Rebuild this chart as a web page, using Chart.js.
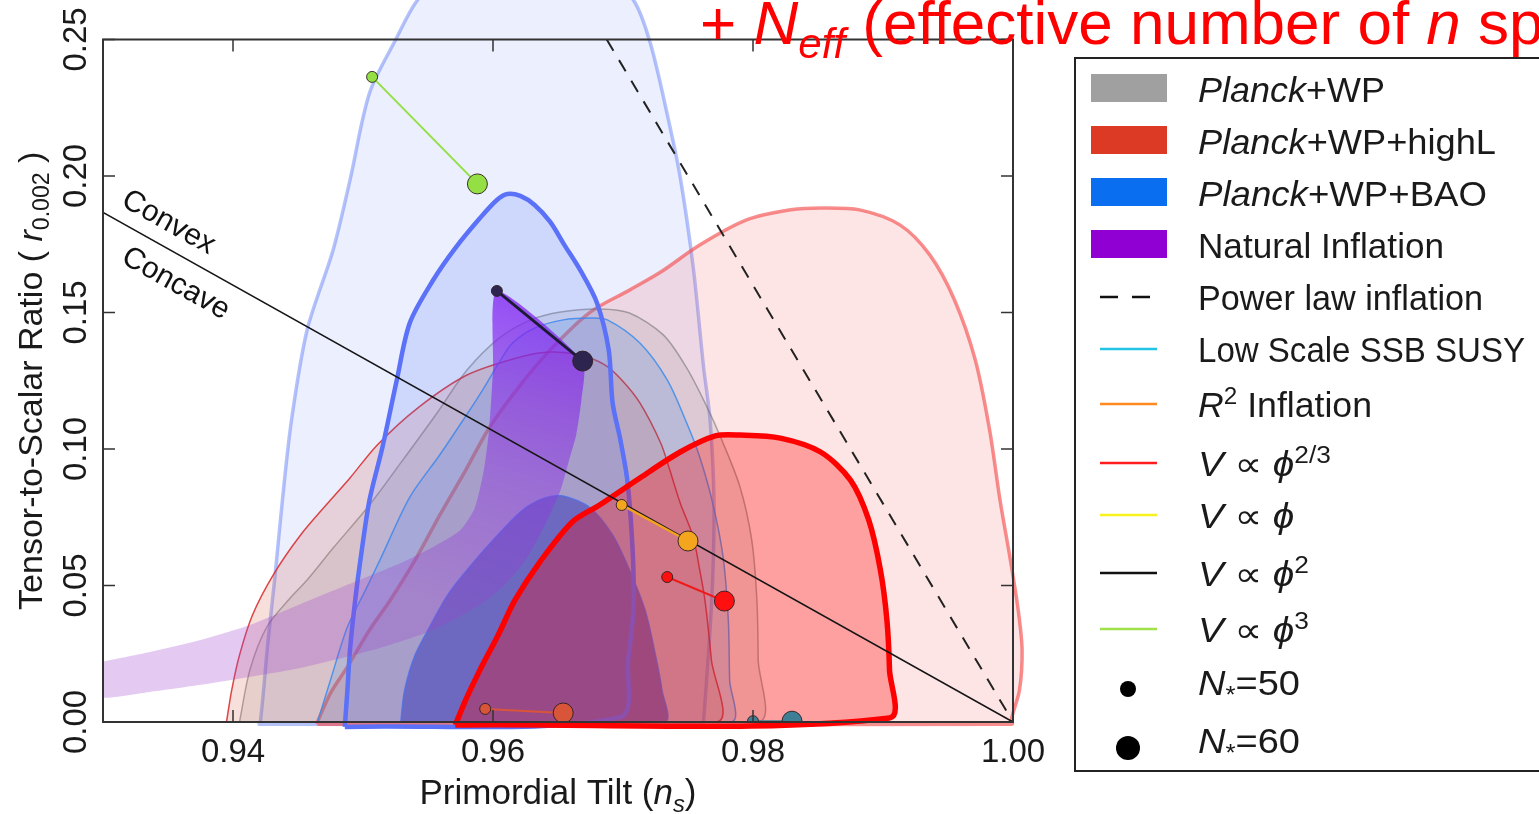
<!DOCTYPE html>
<html><head><meta charset="utf-8">
<script src="https://cdn.jsdelivr.net/npm/chart.js"></script>
<style>html,body{margin:0;padding:0;background:#fff;overflow:hidden}#wrap{width:1539px;height:814px}</style>
</head><body><div id="wrap"><canvas id="c" width="1539" height="814"></canvas></div>
<script>
const FONT = '"Liberation Sans", "DejaVu Sans", Arial, sans-serif';

// ---- ticks ----
const xTickValues = [0.94, 0.96, 0.98, 1.00];
const yTickValues = [0.00, 0.05, 0.10, 0.15, 0.20, 0.25];

// ---- contour regions [ns, r] ----
const overlayBlue95 = [[0.9419,-0.0008],[0.9421,0],[0.9427,0.0300],[0.9432,0.0520],[0.9438,0.0813],[0.9445,0.1106],[0.9457,0.1436],[0.9477,0.1729],[0.9490,0.1985],[0.9505,0.2304],[0.9525,0.2498],[0.9542,0.2645],[0.9565,0.2745],[0.9600,0.2830],[0.9640,0.2850],[0.9680,0.2775],[0.9708,0.2645],[0.9721,0.2487],[0.9735,0.2205],[0.9744,0.1996],[0.9754,0.1667],[0.9762,0.1300],[0.9767,0.1106],[0.9770,0.0813],[0.9769,0.0520],[0.9766,0.0264],[0.9762,0],[0.9762,-0.0008]];
const overlayRed95 = [[0.9465,-0.0008],[0.9465,0],[0.9475,0.0106],[0.9488,0.0202],[0.9505,0.0337],[0.9521,0.0447],[0.9540,0.0593],[0.9559,0.0758],[0.9579,0.0923],[0.9597,0.1077],[0.9621,0.1234],[0.9644,0.1363],[0.9675,0.1502],[0.9705,0.1582],[0.9729,0.1648],[0.9759,0.1747],[0.9795,0.1839],[0.9829,0.1876],[0.9852,0.1883],[0.9882,0.1876],[0.9913,0.1821],[0.9936,0.1711],[0.9955,0.1546],[0.9971,0.1326],[0.9982,0.1070],[0.9990,0.0813],[0.9998,0.0593],[1.0004,0.0410],[1.0007,0.0264],[1.0005,0.0117],[0.9999,0.0015],[0.9999,-0.0008]];
const planckWP95 = [[0.9405,0],[0.9413,0.0191],[0.9426,0.0348],[0.9444,0.0454],[0.9457,0.0520],[0.9477,0.0637],[0.9505,0.0795],[0.9529,0.0949],[0.9557,0.1132],[0.9580,0.1289],[0.9605,0.1407],[0.9629,0.1473],[0.9652,0.1502],[0.9682,0.1513],[0.9705,0.1498],[0.9731,0.1418],[0.9749,0.1297],[0.9765,0.1150],[0.9776,0.1033],[0.9790,0.0861],[0.9799,0.0667],[0.9803,0.0447],[0.9804,0.0227],[0.9804,0]];
const planckHighL95 = [[0.9395,0],[0.9399,0.0117],[0.9405,0.0245],[0.9415,0.0392],[0.9431,0.0539],[0.9452,0.0685],[0.9475,0.0813],[0.9490,0.0894],[0.9511,0.1015],[0.9542,0.1150],[0.9580,0.1271],[0.9621,0.1337],[0.9644,0.1355],[0.9667,0.1344],[0.9686,0.1308],[0.9699,0.1253],[0.9713,0.1169],[0.9729,0.1022],[0.9736,0.0923],[0.9744,0.0802],[0.9754,0.0678],[0.9759,0.0557],[0.9763,0.0447],[0.9768,0.0227],[0.9772,0]];
const planckBAO95 = [[0.9465,0],[0.9475,0.0154],[0.9488,0.0348],[0.9502,0.0484],[0.9513,0.0593],[0.9536,0.0824],[0.9559,0.0978],[0.9577,0.1106],[0.9592,0.1216],[0.9605,0.1319],[0.9615,0.1388],[0.9632,0.1443],[0.9654,0.1473],[0.9675,0.1480],[0.9688,0.1473],[0.9713,0.1388],[0.9734,0.1253],[0.9749,0.1095],[0.9759,0.0971],[0.9769,0.0802],[0.9777,0.0604],[0.9781,0.0374],[0.9782,0.0154],[0.9783,0]];
const planckBAO68 = [[0.9529,0],[0.9532,0.0117],[0.9540,0.0245],[0.9552,0.0355],[0.9565,0.0465],[0.9580,0.0557],[0.9598,0.0656],[0.9623,0.0777],[0.9640,0.0821],[0.9654,0.0828],[0.9675,0.0784],[0.9692,0.0685],[0.9705,0.0557],[0.9717,0.0410],[0.9725,0.0245],[0.9730,0.0117],[0.9732,0]];
const overlayBlue68 = [[0.9486,-0.0018],[0.9488,0.0117],[0.9490,0.0264],[0.9494,0.0447],[0.9498,0.0593],[0.9505,0.0813],[0.9515,0.1007],[0.9526,0.1253],[0.9536,0.1462],[0.9554,0.1619],[0.9571,0.1736],[0.9590,0.1846],[0.9603,0.1912],[0.9611,0.1934],[0.9621,0.1927],[0.9632,0.1894],[0.9644,0.1832],[0.9655,0.1747],[0.9667,0.1656],[0.9680,0.1535],[0.9689,0.1363],[0.9692,0.1169],[0.9698,0.1033],[0.9703,0.0897],[0.9706,0.0740],[0.9708,0.0557],[0.9708,0.0410],[0.9704,0.0227],[0.9698,0.0018]];
const overlayRed68 = [[0.9571,-0.0011],[0.9579,0.0081],[0.9590,0.0191],[0.9604,0.0319],[0.9617,0.0447],[0.9636,0.0586],[0.9661,0.0733],[0.9682,0.0795],[0.9713,0.0894],[0.9744,0.0989],[0.9771,0.1048],[0.9790,0.1051],[0.9821,0.1040],[0.9852,0.0989],[0.9875,0.0886],[0.9889,0.0740],[0.9898,0.0557],[0.9903,0.0374],[0.9905,0.0191],[0.9905,0.0015]];
const naturalInflation = [[0.9295,0.0216],[0.9336,0.0256],[0.9375,0.0300],[0.9413,0.0355],[0.9452,0.0432],[0.9490,0.0506],[0.9529,0.0582],[0.9554,0.0641],[0.9575,0.0703],[0.9586,0.0784],[0.9593,0.0923],[0.9597,0.1070],[0.9600,0.1289],[0.9603,0.1579],[0.9669,0.1322],[0.9668,0.1180],[0.9664,0.1051],[0.9659,0.0967],[0.9652,0.0850],[0.9640,0.0722],[0.9625,0.0593],[0.9609,0.0502],[0.9590,0.0429],[0.9554,0.0337],[0.9513,0.0271],[0.9452,0.0198],[0.9375,0.0136],[0.9336,0.0110],[0.9295,0.0092]];

// ---- model lines and points (N*=50, N*=60) ----
const convexLine   = [[0.93, 0.18667], [1.00, 0.0]];
const powerLawLine = [[0.96875, 0.25], [1.00, 0.0]];
const phi23Points  = [[0.9734, 0.0531], [0.9778, 0.0443]];
const phi1Points   = [[0.9699, 0.0795], [0.9750, 0.0663]];
const phi2Points   = [[0.9603, 0.1579], [0.9669, 0.1322]];
const phi3Points   = [[0.9507, 0.2363], [0.9588, 0.1971]];
const r2Points     = [[0.9594, 0.0048], [0.9654, 0.0033]];
const susyPoints   = [[0.9800, 0.0003], [0.9830, 0.0003]];

// ---- legend ----
const legendRows = [
  [{t:'Planck',i:1},{t:'+WP'}],
  [{t:'Planck',i:1},{t:'+WP+highL'}],
  [{t:'Planck',i:1},{t:'+WP+BAO'}],
  [{t:'Natural Inflation'}],
  [{t:'Power law inflation'}],
  [{t:'Low Scale SSB SUSY'}],
  [{t:'R',i:1},{t:'2',sup:1},{t:' Inflation'}],
  [{t:'V',i:1},{t:' \u221D '},{t:'\u03D5',i:1},{t:'2/3',sup:1}],
  [{t:'V',i:1},{t:' \u221D '},{t:'\u03D5',i:1}],
  [{t:'V',i:1},{t:' \u221D '},{t:'\u03D5',i:1},{t:'2',sup:1}],
  [{t:'V',i:1},{t:' \u221D '},{t:'\u03D5',i:1},{t:'3',sup:1}],
  [{t:'N',i:1},{t:'*',sub:1},{t:'=50'}],
  [{t:'N',i:1},{t:'*',sub:1},{t:'=60'}]
];
const xTitle = [{t:'Primordial Tilt ('},{t:'n',i:1},{t:'s',i:1,sub:1},{t:')'}];
const yTitle = [{t:'Tensor-to-Scalar Ratio ( '},{t:'r',i:1},{t:'0.002',sub:1},{t:' )'}];
const topNote = [{t:'+ '},{t:'N',i:1},{t:'eff',i:1,sub:1},{t:' (effective number of '},{t:'n',i:1},{t:' species)'}];

// ---- helpers ----
const toXY = a => a.map(([x, y]) => ({x, y}));
function region(label, pts, fill, edge, width, order, extra) {
  return Object.assign({label, data: toXY([...pts, pts[0]]), showLine: true, fill: 'shape',
    backgroundColor: fill, borderColor: edge, borderWidth: width, pointRadius: 0, pointHoverRadius: 0,
    tension: 0.3, order, clip: 10, borderJoinStyle: 'round'}, extra || {});
}
function model(label, pts, lineColor, dotColor, lineW, order, extra) {
  return Object.assign({label, data: toXY(pts), showLine: true, fill: false, borderColor: lineColor,
    borderWidth: lineW, pointBackgroundColor: dotColor, pointBorderColor: 'rgba(45,30,30,0.9)',
    pointBorderWidth: 1, pointRadius: [5.5, 10], pointHoverRadius: [5.5, 10], tension: 0, order}, extra || {});
}
function fontFor(p, size) { const s = (p.sup || p.sub) ? size * 0.68 : size; return (p.i ? 'italic ' : '') + s.toFixed(1) + 'px ' + FONT; }
function richWidth(ctx, parts, size) { let w = 0; for (const p of parts) { ctx.font = fontFor(p, size); w += ctx.measureText(p.t).width; } return w; }
function drawRich(ctx, parts, x, y, size) {
  let cx = x;
  for (const p of parts) {
    ctx.font = fontFor(p, size);
    const dy = p.sup ? -size * 0.38 : (p.sub ? size * 0.22 : 0);
    ctx.fillText(p.t, cx, y + dy);
    cx += ctx.measureText(p.t).width;
  }
}

const purpleGradient = (c) => {
  const ch = c.chart, xs = ch.scales.x, ys = ch.scales.y;
  if (!ch.chartArea || !xs) return 'rgba(150,60,210,0.35)';
  const g = ch.ctx.createLinearGradient(xs.getPixelForValue(0.9628), ys.getPixelForValue(0.1546), xs.getPixelForValue(0.9552), ys.getPixelForValue(0.0447));
  g.addColorStop(0, 'rgba(128,28,242,0.74)');
  g.addColorStop(0.55, 'rgba(140,50,225,0.45)');
  g.addColorStop(1, 'rgba(155,60,205,0.27)');
  return g;
};

const datasets = [
  region('Planck+WP+BAO+Neff 95%', overlayBlue95, 'rgba(100,130,245,0.13)', 'rgba(90,120,245,0.45)', 3.5, 30),
  region('Planck+WP+highL+Neff 95%', overlayRed95, 'rgba(245,80,80,0.15)', 'rgba(245,80,80,0.65)', 3.5, 29),
  region('Planck+WP', planckWP95, 'rgba(110,110,110,0.13)', 'rgba(110,110,110,0.55)', 1.5, 28),
  region('Planck+WP+highL', planckHighL95, 'rgba(210,80,60,0.18)', 'rgba(215,40,40,0.85)', 1.5, 27),
  region('Planck+WP+BAO', planckBAO95, 'rgba(40,120,230,0.18)', 'rgba(60,140,235,0.85)', 1.5, 26),
  region('Planck+WP+BAO 68%', planckBAO68, 'rgba(50,40,170,0.5)', 'rgba(70,110,235,0.7)', 1.5, 25),
  region('Planck+WP+BAO+Neff 68%', overlayBlue68, 'rgba(80,110,245,0.18)', '#5a71f8', 4.5, 24),
  region('Natural Inflation', naturalInflation, purpleGradient, 'rgba(0,0,0,0)', 0, 23, {tension: 0.2}),
  region('Planck+WP+highL+Neff 68%', overlayRed68, 'rgba(255,0,0,0.3)', '#ff0000', 5.5, 22),
  {label: 'Convex/Concave', data: toXY(convexLine), showLine: true, fill: false, borderColor: '#151515', borderWidth: 1.6, pointRadius: 0, order: 12},
  {label: 'Power law inflation', data: toXY(powerLawLine), showLine: true, fill: false, borderColor: '#222', borderWidth: 2, borderDash: [13, 11], pointRadius: 0, order: 11},
  model('Low Scale SSB SUSY', susyPoints, '#3f7f95', '#3f7f95', 2, 7, {clip: 0}),
  model('R2 Inflation', r2Points, '#d9553a', '#d9553a', 2, 6),
  model('V ~ phi^(2/3)', phi23Points, '#f01818', '#ff1010', 2, 5),
  model('V ~ phi', phi1Points, '#f2a21e', '#f3a51e', 2.5, 4),
  model('V ~ phi^2', phi2Points, '#1d1a36', '#2d2450', 2.8, 3),
  model('V ~ phi^3', phi3Points, '#94e044', '#94e044', 2, 2)
];

const decor = {
  id: 'decor',
  afterDatasetsDraw(chart) {
    const ctx = chart.ctx, xs = chart.scales.x, ys = chart.scales.y;
    const L = xs.getPixelForValue(0.93), R = xs.getPixelForValue(1.0);
    const T = ys.getPixelForValue(0.25), B = ys.getPixelForValue(0);
    ctx.save();
    const ang = Math.atan2(ys.getPixelForValue(convexLine[1][1]) - ys.getPixelForValue(convexLine[0][1]),
                           xs.getPixelForValue(convexLine[1][0]) - xs.getPixelForValue(convexLine[0][0]));
    ctx.fillStyle = '#111'; ctx.textAlign = 'left'; ctx.textBaseline = 'alphabetic';
    ctx.font = '30px ' + FONT;
    [['Convex', 0.93131, 0.18938], ['Concave', 0.93131, 0.16850]].forEach(([t, x, y]) => {
      ctx.save(); ctx.translate(xs.getPixelForValue(x), ys.getPixelForValue(y)); ctx.rotate(ang); ctx.fillText(t, 0, 0); ctx.restore();
    });
    ctx.strokeStyle = '#333'; ctx.lineWidth = 2;
    ctx.strokeRect(L, T, R - L, B - T);
    ctx.lineWidth = 1.5; ctx.beginPath();
    xTickValues.forEach(v => { const p = xs.getPixelForValue(v); ctx.moveTo(p, B); ctx.lineTo(p, B - 12); ctx.moveTo(p, T); ctx.lineTo(p, T + 12); });
    yTickValues.forEach(v => { const p = ys.getPixelForValue(v); ctx.moveTo(L, p); ctx.lineTo(L + 12, p); ctx.moveTo(R, p); ctx.lineTo(R - 12, p); });
    ctx.stroke();
    ctx.restore();
  },
  afterDraw(chart) {
    const ctx = chart.ctx, xs = chart.scales.x, ys = chart.scales.y;
    ctx.save();
    ctx.fillStyle = '#1a1a1a'; ctx.textBaseline = 'alphabetic'; ctx.textAlign = 'left';
    // x title
    const cx = (xs.getPixelForValue(0.93) + xs.getPixelForValue(1.0)) / 2;
    const wx = richWidth(ctx, xTitle, 35);
    drawRich(ctx, xTitle, cx - wx / 2, 804, 35);
    // y title
    const cy = (ys.getPixelForValue(0) + ys.getPixelForValue(0.25)) / 2;
    ctx.save(); ctx.translate(42, cy); ctx.rotate(-Math.PI / 2);
    const wy = richWidth(ctx, yTitle, 34);
    drawRich(ctx, yTitle, -wy / 2, 0, 34);
    ctx.restore();
    // legend
    ctx.strokeStyle = '#222'; ctx.lineWidth = 2;
    ctx.strokeRect(1075, 58, 520, 713);
    const baselines = [102, 154, 206, 258, 310, 362, 417, 476, 528, 586, 642, 695, 753];
    const textEnds  = [1385, 1496, 1487, 1444, 1483, 1525, 1372, 1336, 1297, 1310, 1310, 1300, 1300];
    const patchColors = ['#a0a0a0', '#dd3a25', '#0a6ef0', '#9000d2'];
    for (let i = 0; i < 4; i++) { ctx.fillStyle = patchColors[i]; ctx.fillRect(1091, baselines[i] - 28, 76, 28); }
    const lineY = i => baselines[i] - 13;
    ctx.lineWidth = 2.5; ctx.strokeStyle = '#111'; ctx.setLineDash([18, 14]);
    ctx.beginPath(); ctx.moveTo(1100, lineY(4)); ctx.lineTo(1151, lineY(4)); ctx.stroke(); ctx.setLineDash([]);
    const lc = {5: '#22c4e6', 6: '#ff8a22', 7: '#ff1c1c', 8: '#f7f21e', 9: '#111111', 10: '#a0e048'};
    for (const k in lc) { ctx.strokeStyle = lc[k]; ctx.beginPath(); ctx.moveTo(1100, lineY(+k)); ctx.lineTo(1157, lineY(+k)); ctx.stroke(); }
    ctx.fillStyle = '#000';
    ctx.beginPath(); ctx.arc(1128, 689, 8, 0, Math.PI * 2); ctx.fill();
    ctx.beginPath(); ctx.arc(1128, 748, 12, 0, Math.PI * 2); ctx.fill();
    ctx.fillStyle = '#1a1a1a';
    legendRows.forEach((parts, i) => {
      const w = richWidth(ctx, parts, 34.5);
      const sx = Math.min(1.12, Math.max(0.9, (textEnds[i] - 1198) / w));
      ctx.save(); ctx.translate(1198, baselines[i]); ctx.scale(sx, 1);
      drawRich(ctx, parts, 0, 0, 34.5);
      ctx.restore();
    });
    // red note on top
    ctx.fillStyle = '#ff0000';
    drawRich(ctx, topNote, 700, 44, 62);
    ctx.restore();
  }
};

new Chart(document.getElementById('c'), {
  type: 'scatter',
  data: {datasets},
  plugins: [decor],
  options: {
    responsive: false, devicePixelRatio: 1, animation: false, events: [],
    layout: {autoPadding: false, padding: {left: 0, top: 0, right: 507, bottom: 0}},
    plugins: {legend: {display: false}, tooltip: {enabled: false}, title: {display: false}},
    scales: {
      x: {type: 'linear', min: 0.93, max: 0.93 + 929 / 13000, bounds: 'data',
        afterBuildTicks: s => { s.ticks = xTickValues.map(v => ({value: v})); },
        afterFit: s => { s.height = 92; s.paddingLeft = 0; s.paddingRight = 0; },
        grid: {display: false}, border: {display: false},
        ticks: {autoSkip: false, minRotation: 0, maxRotation: 0, padding: 3, color: '#1a1a1a', font: {size: 33, family: FONT}, callback: v => v.toFixed(2)}},
      y: {type: 'linear', min: 0, max: 722 / 2730, bounds: 'data',
        afterBuildTicks: s => { s.ticks = yTickValues.map(v => ({value: v})); },
        afterFit: s => { s.width = 103; s.paddingTop = 0; s.paddingBottom = 0; },
        grid: {display: false}, border: {display: false},
        ticks: {autoSkip: false, minRotation: 90, maxRotation: 90, crossAlign: 'center', padding: -14, color: '#1a1a1a', font: {size: 33, family: FONT}, callback: v => v.toFixed(2)}}
    }
  }
});
</script>
</body></html>
